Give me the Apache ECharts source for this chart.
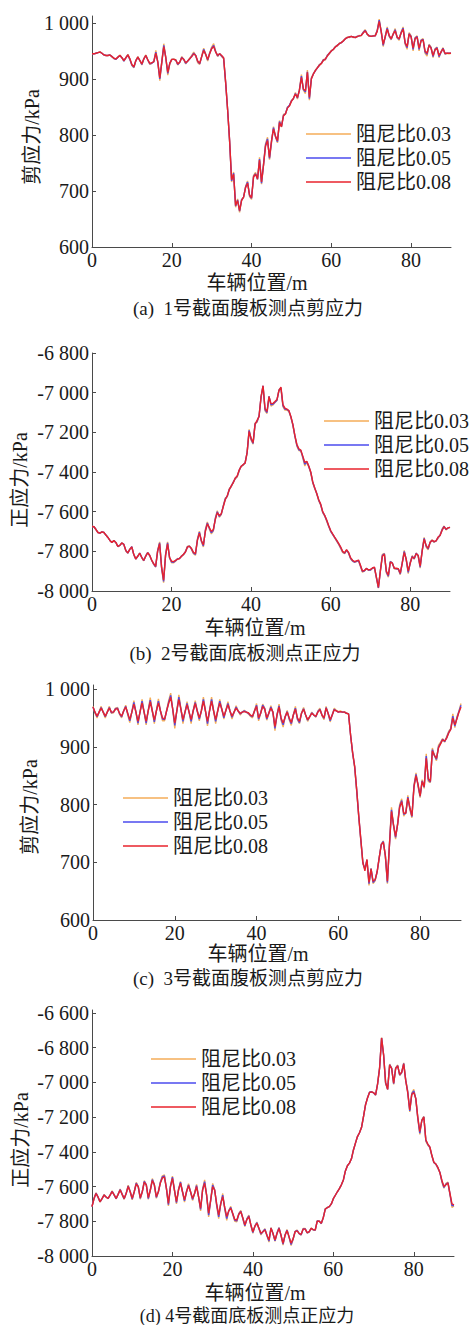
<!DOCTYPE html>
<html>
<head>
<meta charset="utf-8">
<title>阻尼比对测点应力的影响</title>
<script src="https://cdn.jsdelivr.net/npm/echarts@6/dist/echarts.min.js"></script>
<style>
  html, body { margin: 0; padding: 0; background: #ffffff; }
  #chart { width: 470px; height: 1325px; }
</style>
</head>
<body>
<div id="chart"></div>
<script>
// Vehicle position sampled every 0.5 m from 0 to 90 m
const STEP = 0.5;
const POS = Array.from({ length: 181 }, (_, i) => i * STEP);

const SERIES_NAMES = ['阻尼比0.03', '阻尼比0.05', '阻尼比0.08'];
const X_TICKS = [0, 20, 40, 60, 80];
const Y_TICKS_SHEAR = [600, 700, 800, 900, 1000];
const Y_TICKS_B = [-8000, -7800, -7600, -7400, -7200, -7000, -6800];
const Y_TICKS_D = [-8000, -7800, -7600, -7400, -7200, -7000, -6800, -6600];

const X_NAME = '车辆位置/m';
const Y_NAMES = ['剪应力/kPa', '正应力/kPa', '剪应力/kPa', '正应力/kPa'];
const CAPTIONS = [
  '(a)  1号截面腹板测点剪应力',
  '(b)  2号截面底板测点正应力',
  '(c)  3号截面腹板测点剪应力',
  '(d) 4号截面底板测点正应力'
];

// (a) section 1 web, shear stress (kPa)
const A_003 = [
  945,945,946,947,949,946,943,942,942,943,
  940,936,935,939,943,938,932,938,944,935,
  924,920,933,940,933,925,936,943,934,926,
  928,931,951,930,897,931,963,938,907,927,
  935,936,934,925,930,940,935,927,932,937,
  942,948,942,929,926,941,955,944,932,947,
  957,963,950,940,946,940,936,893,845,788,
  716,734,671,686,662,685,689,708,718,690,
  685,728,733,720,760,712,748,784,796,756,
  786,815,797,786,826,814,837,837,850,852,
  862,864,876,864,881,908,880,874,916,862,
  903,909,916,920,926,927,935,934,943,945,
  951,952,958,959,964,965,969,971,975,974,
  976,974,975,975,978,977,984,988,980,976,
  977,976,978,987,1007,985,958,976,993,976,
  970,981,990,973,969,984,993,962,953,983,
  977,950,974,977,950,970,972,946,941,962,
  957,938,954,957,938,949,956,944,946,945,
  946
];
const A_005 = [
  945,945,946,947,948,946,943,942,942,943,
  940,937,935,939,942,938,932,938,943,935,
  925,921,933,939,933,926,936,942,934,927,
  928,931,948,930,900,930,960,938,910,928,
  935,935,934,926,930,939,935,928,932,936,
  941,946,942,931,927,940,953,944,934,946,
  955,960,949,941,945,941,937,894,845,789,
  718,732,673,684,664,684,689,707,716,692,
  687,726,731,721,757,714,747,782,793,758,
  788,813,797,788,824,815,835,838,849,853,
  861,865,874,866,880,905,881,877,913,865,
  901,909,915,920,925,928,934,935,942,946,
  950,953,957,960,963,965,968,972,974,975,
  976,975,974,976,977,978,983,987,980,977,
  976,977,977,986,1005,985,960,975,991,977,
  971,980,988,974,971,983,991,964,956,981,
  976,953,973,976,953,969,971,948,944,961,
  956,940,953,956,940,948,955,945,946,946,
  946
];
const A_008 = [
  945,945,946,947,948,946,943,942,942,943,
  940,937,936,939,942,938,933,938,943,936,
  926,922,933,939,933,927,936,942,934,928,
  929,931,946,930,902,930,958,938,912,928,
  935,935,934,927,930,938,935,929,932,936,
  940,945,942,932,928,940,951,944,935,945,
  954,958,948,942,945,942,938,895,845,790,
  720,730,674,683,665,683,689,706,714,693,
  688,725,730,722,755,716,746,780,790,760,
  790,811,798,790,822,815,834,838,848,852,
  860,866,873,867,880,903,882,879,912,867,
  900,909,915,920,924,928,933,936,941,946,
  950,953,957,960,963,965,968,972,974,975,
  976,975,974,976,977,978,982,986,980,977,
  976,977,977,985,1003,985,962,975,989,978,
  972,980,986,975,972,982,989,965,958,980,
  975,955,972,975,955,968,970,950,946,960,
  955,942,952,955,942,948,954,946,946,946,
  946
];

// (b) section 2 bottom slab, normal stress (kPa)
const B_003 = [
  -7675,-7676,-7690,-7705,-7708,-7702,-7705,-7718,-7730,-7745,
  -7755,-7745,-7756,-7777,-7769,-7757,-7766,-7798,-7810,-7789,
  -7776,-7817,-7840,-7824,-7808,-7832,-7848,-7823,-7805,-7822,
  -7846,-7866,-7880,-7795,-7752,-7885,-7958,-7815,-7752,-7835,
  -7858,-7858,-7850,-7836,-7838,-7822,-7818,-7800,-7775,-7772,
  -7790,-7812,-7820,-7738,-7698,-7752,-7778,-7690,-7652,-7688,
  -7712,-7698,-7632,-7595,-7628,-7615,-7570,-7532,-7525,-7485,
  -7475,-7450,-7436,-7425,-7395,-7370,-7366,-7352,-7305,-7185,
  -7240,-7260,-7152,-7150,-7115,-7025,-6968,-7092,-7105,-7018,
  -7068,-7062,-7050,-7040,-6985,-6978,-7070,-7088,-7088,-7095,
  -7125,-7165,-7220,-7270,-7292,-7295,-7330,-7370,-7350,-7375,
  -7405,-7455,-7485,-7510,-7545,-7568,-7605,-7622,-7648,-7675,
  -7700,-7715,-7732,-7748,-7765,-7785,-7805,-7812,-7795,-7810,
  -7838,-7850,-7855,-7852,-7848,-7878,-7905,-7900,-7885,-7896,
  -7896,-7886,-7882,-7935,-7986,-7895,-7815,-7810,-7908,-7930,
  -7850,-7858,-7888,-7890,-7890,-7918,-7855,-7795,-7845,-7912,
  -7855,-7822,-7840,-7808,-7825,-7885,-7795,-7730,-7778,-7792,
  -7752,-7742,-7756,-7746,-7735,-7718,-7688,-7672,-7692,-7682,
  -7679
];
const B_005 = [
  -7675,-7676,-7690,-7705,-7708,-7702,-7705,-7718,-7730,-7745,
  -7755,-7746,-7755,-7776,-7770,-7758,-7765,-7796,-7809,-7790,
  -7777,-7816,-7839,-7825,-7809,-7831,-7847,-7824,-7806,-7821,
  -7845,-7864,-7878,-7798,-7757,-7882,-7952,-7818,-7757,-7832,
  -7854,-7855,-7848,-7838,-7836,-7824,-7816,-7802,-7777,-7774,
  -7788,-7808,-7816,-7742,-7703,-7748,-7773,-7695,-7657,-7684,
  -7706,-7694,-7636,-7600,-7624,-7612,-7572,-7536,-7522,-7488,
  -7472,-7452,-7433,-7422,-7392,-7371,-7364,-7353,-7302,-7190,
  -7235,-7256,-7156,-7145,-7118,-7022,-6966,-7086,-7100,-7019,
  -7062,-7058,-7048,-7038,-6988,-6975,-7065,-7083,-7085,-7092,
  -7122,-7162,-7218,-7265,-7288,-7292,-7325,-7361,-7348,-7372,
  -7402,-7452,-7482,-7509,-7542,-7565,-7602,-7620,-7645,-7672,
  -7698,-7714,-7730,-7746,-7762,-7781,-7802,-7810,-7794,-7808,
  -7835,-7848,-7854,-7850,-7846,-7874,-7902,-7898,-7886,-7894,
  -7894,-7885,-7881,-7932,-7984,-7898,-7820,-7812,-7904,-7925,
  -7852,-7859,-7886,-7888,-7889,-7914,-7858,-7800,-7842,-7906,
  -7858,-7825,-7838,-7810,-7822,-7880,-7798,-7734,-7774,-7788,
  -7754,-7744,-7753,-7747,-7731,-7719,-7692,-7674,-7690,-7682,
  -7679
];
const B_008 = [
  -7675,-7676,-7690,-7705,-7708,-7702,-7705,-7718,-7730,-7745,
  -7755,-7746,-7755,-7775,-7770,-7758,-7765,-7795,-7808,-7790,
  -7778,-7815,-7838,-7825,-7810,-7830,-7846,-7825,-7807,-7820,
  -7844,-7862,-7875,-7800,-7762,-7880,-7945,-7820,-7762,-7830,
  -7850,-7852,-7846,-7840,-7835,-7826,-7815,-7803,-7778,-7775,
  -7785,-7805,-7812,-7745,-7708,-7745,-7768,-7700,-7662,-7680,
  -7700,-7690,-7640,-7605,-7620,-7610,-7575,-7540,-7520,-7490,
  -7470,-7455,-7430,-7420,-7390,-7372,-7362,-7355,-7300,-7195,
  -7230,-7252,-7160,-7140,-7120,-7020,-6965,-7080,-7095,-7020,
  -7055,-7054,-7045,-7035,-6990,-6972,-7060,-7078,-7083,-7090,
  -7120,-7160,-7215,-7260,-7283,-7290,-7320,-7352,-7346,-7370,
  -7400,-7450,-7480,-7508,-7540,-7562,-7600,-7618,-7642,-7670,
  -7695,-7712,-7728,-7743,-7760,-7777,-7800,-7808,-7792,-7805,
  -7832,-7845,-7852,-7848,-7844,-7870,-7900,-7896,-7887,-7893,
  -7891,-7884,-7880,-7930,-7982,-7900,-7825,-7815,-7900,-7920,
  -7855,-7860,-7885,-7885,-7888,-7910,-7860,-7805,-7840,-7900,
  -7860,-7828,-7835,-7812,-7820,-7875,-7800,-7738,-7770,-7785,
  -7755,-7745,-7750,-7748,-7728,-7720,-7695,-7676,-7688,-7682,
  -7679
];

// (c) section 3 web, shear stress (kPa)
const C_003 = [
  970,958,950,961,970,959,950,961,970,958,
  959,967,968,956,950,963,972,955,942,961,
  980,960,938,961,982,960,938,963,985,962,
  940,963,983,962,945,945,963,980,993,965,
  932,963,990,966,940,960,978,960,940,963,
  980,962,945,963,986,962,936,963,986,962,
  940,963,982,966,948,964,978,962,948,960,
  971,962,955,960,963,960,957,953,950,963,
  975,945,958,974,967,946,958,971,960,928,
  955,974,946,934,952,963,947,937,956,970,
  947,940,959,968,955,944,952,960,955,951,
  962,967,954,947,970,957,943,955,967,963,
  961,962,960,961,958,957,920,888,864,822,
  777,737,697,690,703,660,690,663,668,683,
  708,732,737,710,663,731,795,763,740,768,
  800,810,780,786,816,791,777,834,855,831,
  812,843,828,888,840,838,898,885,876,903,
  908,914,908,918,927,932,957,933,952,962,
  975
];
const C_005 = [
  969,959,952,960,968,960,952,960,968,959,
  960,966,967,957,952,962,970,957,945,960,
  977,960,941,960,979,960,941,962,981,962,
  943,962,979,962,948,947,962,977,989,965,
  937,962,986,965,944,960,975,960,944,962,
  977,962,948,962,982,962,940,962,982,962,
  944,962,979,965,950,963,975,962,951,960,
  969,962,957,960,962,960,958,954,952,962,
  972,948,958,972,966,948,958,969,960,932,
  955,971,948,938,952,961,948,940,955,967,
  948,942,958,966,955,946,952,959,955,952,
  961,965,955,949,968,958,945,955,965,962,
  960,961,960,960,958,957,920,889,865,824,
  779,739,699,688,704,663,689,665,669,684,
  708,731,736,711,665,730,791,764,743,766,
  797,807,783,785,813,793,779,832,852,833,
  814,841,830,884,843,839,895,885,878,900,
  906,913,909,916,925,931,953,936,950,961,
  972
];
const C_008 = [
  969,960,953,960,967,960,953,960,967,960,
  960,965,966,958,953,962,969,958,947,960,
  974,960,944,960,976,960,944,962,978,962,
  946,962,976,962,950,948,962,975,986,965,
  941,962,982,965,947,960,973,960,947,962,
  975,962,950,962,979,962,944,962,979,962,
  947,962,976,965,953,963,973,962,953,960,
  967,962,958,960,961,960,959,955,953,962,
  970,950,958,970,965,950,958,967,960,935,
  955,969,950,941,952,960,950,942,955,965,
  950,944,958,965,955,947,952,958,955,953,
  960,964,955,950,967,958,947,955,964,962,
  960,961,960,960,958,957,920,890,866,825,
  780,740,700,685,705,665,688,667,670,684,
  708,730,735,712,667,730,788,765,745,765,
  795,805,785,785,811,795,780,830,850,835,
  815,840,831,880,845,840,893,885,880,898,
  905,912,910,915,924,930,950,938,948,960,
  969
];

// (d) section 4 bottom slab, normal stress (kPa)
const D_003 = [
  -7716,-7668,-7636,-7662,-7690,-7670,-7646,-7661,-7670,-7648,
  -7625,-7648,-7672,-7643,-7614,-7645,-7674,-7638,-7592,-7630,
  -7676,-7630,-7576,-7600,-7673,-7630,-7566,-7590,-7674,-7620,
  -7554,-7590,-7668,-7630,-7572,-7538,-7532,-7610,-7712,-7600,
  -7540,-7620,-7700,-7620,-7570,-7630,-7690,-7630,-7584,-7630,
  -7680,-7640,-7588,-7660,-7740,-7615,-7562,-7650,-7775,-7680,
  -7582,-7620,-7712,-7785,-7700,-7640,-7728,-7795,-7740,-7714,
  -7762,-7800,-7803,-7755,-7738,-7786,-7830,-7786,-7764,-7825,
  -7870,-7826,-7804,-7842,-7879,-7858,-7842,-7884,-7920,-7836,
  -7872,-7915,-7866,-7836,-7884,-7937,-7878,-7848,-7893,-7940,
  -7905,-7858,-7850,-7872,-7880,-7842,-7842,-7868,-7862,-7838,
  -7850,-7852,-7796,-7798,-7815,-7778,-7728,-7720,-7716,-7700,
  -7670,-7650,-7630,-7612,-7590,-7562,-7510,-7480,-7465,-7440,
  -7389,-7350,-7312,-7290,-7260,-7197,-7128,-7088,-7056,-7053,
  -7060,-7074,-7008,-6915,-6742,-6845,-7008,-7040,-6895,-6918,
  -7012,-6915,-6900,-6960,-6945,-6888,-6985,-7050,-7170,-7062,
  -7040,-7095,-7210,-7300,-7215,-7195,-7340,-7362,-7375,-7425,
  -7462,-7472,-7495,-7518,-7575,-7610,-7582,-7575,-7648,-7720,
  -7712
];
const D_005 = [
  -7716,-7669,-7638,-7661,-7688,-7670,-7648,-7660,-7669,-7649,
  -7627,-7648,-7670,-7644,-7617,-7645,-7671,-7639,-7596,-7630,
  -7672,-7630,-7580,-7600,-7668,-7630,-7570,-7590,-7669,-7620,
  -7560,-7590,-7663,-7630,-7576,-7544,-7538,-7610,-7704,-7600,
  -7546,-7620,-7693,-7620,-7575,-7630,-7683,-7630,-7590,-7630,
  -7674,-7640,-7594,-7660,-7732,-7618,-7572,-7650,-7765,-7680,
  -7591,-7620,-7706,-7775,-7700,-7649,-7724,-7784,-7740,-7720,
  -7758,-7795,-7798,-7758,-7742,-7783,-7826,-7788,-7769,-7822,
  -7865,-7828,-7808,-7841,-7874,-7859,-7846,-7882,-7914,-7838,
  -7871,-7912,-7868,-7838,-7882,-7932,-7879,-7851,-7891,-7934,
  -7902,-7859,-7852,-7871,-7878,-7844,-7844,-7867,-7861,-7840,
  -7849,-7851,-7798,-7799,-7813,-7779,-7729,-7721,-7716,-7700,
  -7670,-7650,-7630,-7612,-7590,-7562,-7510,-7480,-7465,-7440,
  -7389,-7350,-7312,-7290,-7260,-7197,-7129,-7089,-7057,-7054,
  -7060,-7073,-7009,-6917,-6744,-6842,-7004,-7040,-6898,-6919,
  -7008,-6918,-6903,-6958,-6943,-6891,-6988,-7055,-7165,-7066,
  -7049,-7094,-7205,-7292,-7218,-7198,-7335,-7358,-7374,-7422,
  -7461,-7471,-7492,-7519,-7570,-7605,-7586,-7578,-7644,-7710,
  -7709
];
const D_008 = [
  -7716,-7670,-7640,-7660,-7687,-7670,-7649,-7660,-7668,-7650,
  -7629,-7648,-7668,-7645,-7620,-7645,-7668,-7640,-7600,-7630,
  -7668,-7630,-7585,-7600,-7664,-7630,-7575,-7590,-7664,-7620,
  -7565,-7590,-7658,-7630,-7580,-7550,-7545,-7610,-7697,-7600,
  -7553,-7620,-7687,-7620,-7581,-7630,-7677,-7630,-7595,-7630,
  -7668,-7640,-7600,-7660,-7725,-7620,-7581,-7650,-7754,-7680,
  -7600,-7620,-7700,-7764,-7700,-7658,-7720,-7773,-7740,-7725,
  -7755,-7790,-7793,-7760,-7745,-7780,-7821,-7790,-7773,-7820,
  -7860,-7830,-7812,-7840,-7869,-7860,-7850,-7880,-7908,-7840,
  -7870,-7908,-7870,-7841,-7880,-7927,-7880,-7854,-7890,-7927,
  -7900,-7860,-7855,-7870,-7875,-7845,-7845,-7866,-7860,-7841,
  -7848,-7850,-7800,-7800,-7812,-7780,-7730,-7722,-7716,-7700,
  -7670,-7650,-7630,-7612,-7590,-7562,-7510,-7480,-7465,-7440,
  -7389,-7350,-7312,-7290,-7260,-7197,-7130,-7090,-7058,-7055,
  -7059,-7072,-7010,-6919,-6745,-6840,-7000,-7040,-6900,-6920,
  -7005,-6920,-6905,-6955,-6940,-6893,-6990,-7060,-7159,-7070,
  -7058,-7092,-7200,-7284,-7220,-7200,-7330,-7355,-7372,-7420,
  -7460,-7470,-7490,-7520,-7565,-7600,-7590,-7580,-7640,-7700,
  -7706
];

const PANEL_DATA = [
  [A_003, A_005, A_008],
  [B_003, B_005, B_008],
  [C_003, C_005, C_008],
  [D_003, D_005, D_008]
];

// ---- layout and styling ----
const FONT = "'Liberation Serif', 'Times New Roman', 'Noto Sans CJK SC', serif";
const TEXT_COLOR = '#1a1a1a';
const AXIS_COLOR = '#4a4a4a';
const LINE_COLORS = ['#F5AD58', '#4B4BEE', '#E8232C'];

const GRIDS = [
  { left: 92, top: 16,   width: 359, height: 231 },
  { left: 92, top: 353,  width: 358, height: 238 },
  { left: 93, top: 685,  width: 368, height: 235 },
  { left: 92, top: 1010, width: 362, height: 246 }
];
const Y_RANGES = [[600, 1012.5], [-8000, -6800], [600, 1007], [-8000, -6583]];
const Y_TICKS = [Y_TICKS_SHEAR, Y_TICKS_B, Y_TICKS_SHEAR, Y_TICKS_D];
const LEGEND_POS = [[306, 124], [324, 411], [123, 788], [151, 1049]];
const X_NAME_POS = [[257, 283], [255, 628], [258, 954], [255, 1293]];
const CAPTION_POS = [[248, 308], [245, 653], [248, 978], [247, 1316]];
const Y_NAME_POS = [[32, 137], [20, 480], [30, 807], [21, 1140]];

function groupThousands(v) {
  const s = String(Math.abs(v));
  const g = s.length > 3 ? s.slice(0, -3) + ' ' + s.slice(-3) : s;
  return (v < 0 ? '-' : '') + g;
}

const grid = GRIDS.map(g => Object.assign({ containLabel: false }, g));

const xAxis = GRIDS.map((g, i) => ({
  type: 'value',
  gridIndex: i,
  min: 0,
  max: 90,
  axisLine: { show: true, onZero: false, lineStyle: { color: AXIS_COLOR, width: 1 } },
  axisTick: { show: true, inside: true, length: 4, customValues: X_TICKS,
              lineStyle: { color: AXIS_COLOR, width: 1 } },
  axisLabel: { customValues: X_TICKS, margin: 3, fontFamily: FONT, fontSize: 20,
               color: TEXT_COLOR },
  splitLine: { show: false }
}));

const yAxis = GRIDS.map((g, i) => ({
  type: 'value',
  gridIndex: i,
  min: Y_RANGES[i][0],
  max: Y_RANGES[i][1],
  axisLine: { show: true, onZero: false, lineStyle: { color: AXIS_COLOR, width: 1 } },
  axisTick: { show: true, inside: true, length: 4, customValues: Y_TICKS[i],
              lineStyle: { color: AXIS_COLOR, width: 1 } },
  axisLabel: { customValues: Y_TICKS[i], margin: 3, fontFamily: FONT, fontSize: 20,
               color: TEXT_COLOR, formatter: v => groupThousands(v) },
  splitLine: { show: false }
}));

const series = [];
PANEL_DATA.forEach((set, p) => {
  set.forEach((vals, k) => {
    series.push({
      type: 'line',
      name: SERIES_NAMES[k],
      xAxisIndex: p,
      yAxisIndex: p,
      data: vals.map((v, i) => [POS[i], v]),
      symbol: 'none',
      showSymbol: false,
      smooth: false,
      lineStyle: { color: LINE_COLORS[k], width: 1.4 },
      itemStyle: { color: LINE_COLORS[k] },
      emphasis: { disabled: true },
      z: 2 + k
    });
  });
});

// legend keys drawn as thin horizontal bars, like line samples
const legend = LEGEND_POS.map(([l, t]) => ({
  data: SERIES_NAMES.map(n => ({ name: n, icon: 'rect' })),
  orient: 'vertical',
  left: l,
  top: t,
  padding: 0,
  itemWidth: 45,
  itemHeight: 1.6,
  itemGap: 4,
  selectedMode: false,
  textStyle: { fontFamily: FONT, fontSize: 20, lineHeight: 20, color: TEXT_COLOR }
}));

const textBase = { fontFamily: FONT, fontSize: 20, fill: TEXT_COLOR,
                   textAlign: 'center', textVerticalAlign: 'middle' };
const graphic = [];
X_NAME_POS.forEach(([x, y]) => graphic.push({
  type: 'text', x, y, silent: true, style: Object.assign({ text: X_NAME }, textBase)
}));
CAPTION_POS.forEach(([x, y], i) => graphic.push({
  type: 'text', x, y, silent: true,
  style: Object.assign({ text: CAPTIONS[i] }, textBase, { fontSize: i === 3 ? 18 : 19 })
}));
Y_NAME_POS.forEach(([x, y], i) => graphic.push({
  type: 'text', x, y, rotation: Math.PI / 2, silent: true,
  style: Object.assign({ text: Y_NAMES[i] }, textBase)
}));

const chart = echarts.init(document.getElementById('chart'), null, { renderer: 'svg' });
chart.setOption({
  backgroundColor: '#ffffff',
  animation: false,
  grid, xAxis, yAxis, series, legend, graphic,
  tooltip: { show: false }
});
</script>
</body>
</html>
